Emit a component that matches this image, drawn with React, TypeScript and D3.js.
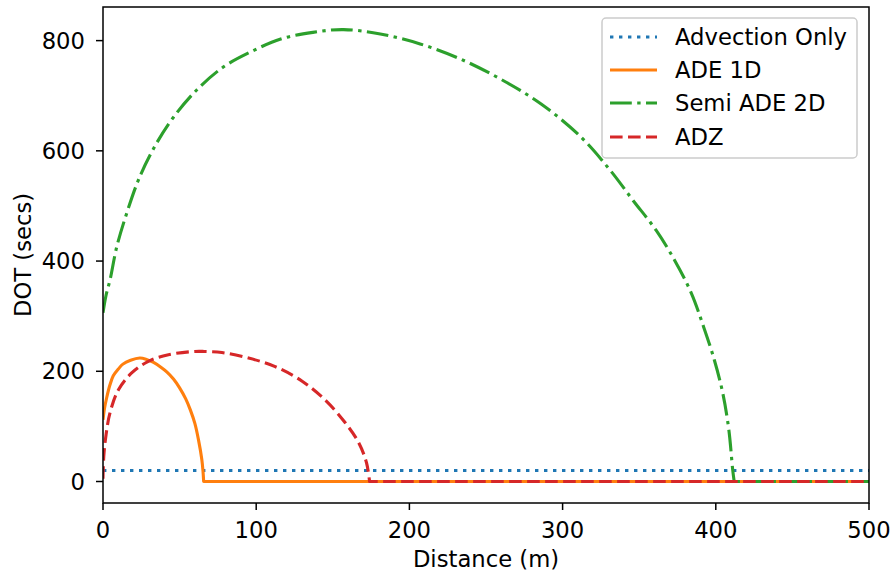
import React from "react";
import * as d3 from "d3";

const W = 892;
const H = 576;

const xTicks = [0, 100, 200, 300, 400, 500];
const yTicks = [0, 200, 400, 600, 800];

const seriesNames = ["Advection Only", "ADE 1D", "Semi ADE 2D", "ADZ"];

const xAdvection = [0, 500];
const yAdvection = [20, 20];

const xAde1d = [0, 1, 2.4, 4.5, 6.7, 10, 13, 18, 24, 28, 33, 38, 41.6, 46, 50, 54, 57, 60, 62.3, 64.5, 65.3, 65.7, 500];
const yAde1d = [112, 133, 152, 175, 192, 204, 213, 220, 224, 222, 216, 207, 199, 186, 170, 150, 130, 105, 76, 40, 18, 0, 0];

const xSemi2d = [0, 2, 4.6, 9, 15.5, 24, 35, 46, 61, 78.5, 96, 116, 137, 157, 181, 207, 233, 259, 286, 312, 331, 346, 361, 373, 384, 392, 399, 404.5, 408.5, 411, 412, 500];
const ySemi2d = [306, 338, 366, 426, 487, 553, 614, 661, 710, 752, 779, 803, 815, 820, 812, 794, 767, 731, 685, 625, 565, 510, 456, 402, 342, 281, 221, 161, 94, 22, 0, 0];

const xAdz = [0, 0.5, 2, 4.6, 10, 18.7, 29.6, 42.7, 60, 66, 77.6, 95, 112, 130, 145, 158, 167, 172, 174, 500];
const yAdz = [5, 45, 85, 125, 166, 197, 218, 230, 236, 236, 234, 224, 209, 182, 148, 107, 70, 34, 0, 0];

const colors = ["#1f77b4", "#ff7f0e", "#2ca02c", "#d62728"];
const LW = 3.1;
const dashes = ["3.4 5.6", "", "21.8 5.4 3.4 5.4", "12.6 5.4"];

const FONT = "'DejaVu Sans', Verdana, sans-serif";
const FS = 22.7;

export default function App() {
  const left = 103, right = 869, top = 7, bottom = 503;
  const x = d3.scaleLinear().domain([0, 500]).range([left, right]);
  const y = d3.scaleLinear().domain([-39, 861]).range([bottom, top]);

  const series = [
    { xs: xAdvection, ys: yAdvection },
    { xs: xAde1d, ys: yAde1d },
    { xs: xSemi2d, ys: ySemi2d },
    { xs: xAdz, ys: yAdz },
  ];

  const arcLine = d3
    .line<[number, number]>()
    .x((d) => x(d[0]))
    .y((d) => y(d[1]))
    .curve(d3.curveCatmullRom.alpha(0.5));

  const pathFor = (xs: number[], ys: number[]) => {
    const pts = xs.map((v, j) => [v, ys[j]] as [number, number]);
    let k = pts.length - 1;
    while (k > 0 && pts[k - 1][1] === pts[k][1]) k--;
    const arc = pts.slice(0, k + 1);
    const rest = pts.slice(k + 1);
    let d = arc.length > 1 ? arcLine(arc) || "" : `M${x(arc[0][0])},${y(arc[0][1])}`;
    rest.forEach((p) => {
      d += `L${x(p[0])},${y(p[1])}`;
    });
    return d;
  };

  const legendRows = [37, 70, 103, 137];

  return (
    <svg
      width={W}
      height={H}
      style={{ position: "absolute", left: 0, top: 0, background: "#fff" }}
      fontFamily={FONT}
    >
      <defs>
        <clipPath id="plotclip">
          <rect x={left} y={top} width={right - left} height={bottom - top} />
        </clipPath>
      </defs>
      <rect x={0} y={0} width={W} height={H} fill="#fff" />
      <g clipPath="url(#plotclip)">
        {series.map((s, i) => (
          <path
            key={i}
            d={pathFor(s.xs, s.ys)}
            fill="none"
            stroke={colors[i]}
            strokeWidth={LW}
            strokeDasharray={dashes[i] || undefined}
            strokeLinejoin="round"
          />
        ))}
      </g>
      <rect
        x={left}
        y={top}
        width={right - left}
        height={bottom - top}
        fill="none"
        stroke="#000"
        strokeWidth={1.5}
      />
      {xTicks.map((t) => (
        <g key={"x" + t}>
          <line x1={x(t)} x2={x(t)} y1={bottom} y2={bottom + 7} stroke="#000" strokeWidth={1.5} />
          <text x={x(t)} y={538} fontSize={FS} textAnchor="middle" fill="#000">
            {t}
          </text>
        </g>
      ))}
      {yTicks.map((t) => (
        <g key={"y" + t}>
          <line x1={left - 7} x2={left} y1={y(t)} y2={y(t)} stroke="#000" strokeWidth={1.5} />
          <text x={85} y={y(t) + 8} fontSize={FS} textAnchor="end" fill="#000">
            {t}
          </text>
        </g>
      ))}
      <text x={(left + right) / 2} y={567} fontSize={FS} textAnchor="middle" fill="#000">
        Distance (m)
      </text>
      <text
        transform={`translate(31, ${(top + bottom) / 2}) rotate(-90)`}
        fontSize={FS}
        textAnchor="middle"
        fill="#000"
      >
        DOT (secs)
      </text>
      <rect
        x={602}
        y={18}
        width={255}
        height={140}
        rx={4}
        ry={4}
        fill="#fff"
        fillOpacity={0.8}
        stroke="#cccccc"
        strokeWidth={1.5}
      />
      {seriesNames.map((name, i) => (
        <g key={name}>
          <line
            x1={610}
            x2={657}
            y1={legendRows[i]}
            y2={legendRows[i]}
            stroke={colors[i]}
            strokeWidth={LW}
            strokeDasharray={dashes[i] || undefined}
          />
          <text x={675} y={legendRows[i] + 8} fontSize={FS} fill="#000">
            {name}
          </text>
        </g>
      ))}
    </svg>
  );
}
